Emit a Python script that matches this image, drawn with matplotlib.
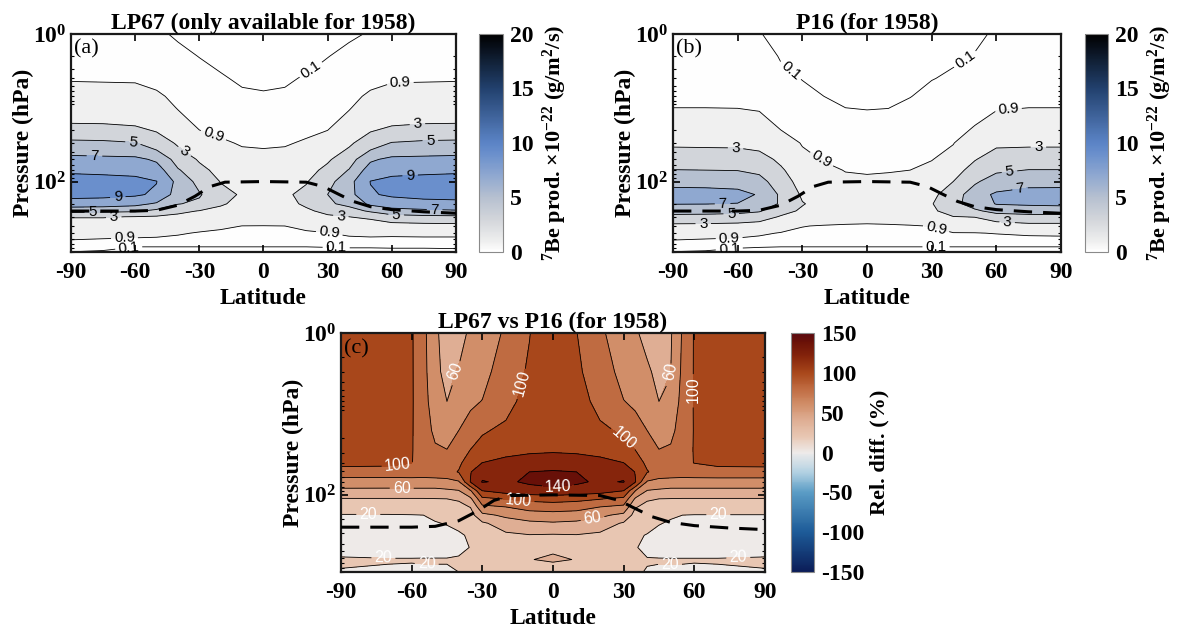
import numpy as np
import matplotlib
matplotlib.use('Agg')
import matplotlib.pyplot as plt
from matplotlib.colors import LinearSegmentedColormap, Normalize
from matplotlib.cm import ScalarMappable
from matplotlib.ticker import LogLocator, NullFormatter, FixedLocator

plt.rcParams['font.family'] = ['Liberation Serif', 'DejaVu Serif']
plt.rcParams['font.weight'] = 'bold'
plt.rcParams['axes.labelweight'] = 'bold'
plt.rcParams['axes.titleweight'] = 'bold'
plt.rcParams['mathtext.fontset'] = 'custom'
plt.rcParams['mathtext.rm'] = 'Liberation Serif:bold'
plt.rcParams['mathtext.bf'] = 'Liberation Serif:bold'
plt.rcParams['mathtext.default'] = 'rm'
plt.rcParams['axes.unicode_minus'] = False

# ---- data ----
# latitude columns and pressure levels (hPa) for panels (a) and (b)
lat = [-90, -75, -60, -50, -40, -30, -20, -10, 0, 10, 20, 30, 40, 50, 60, 75, 90]
pres = [1, 2, 4, 7, 10, 20, 30, 50, 70, 100, 150, 200, 250, 300, 400, 500, 700, 900]

# 7Be production, LP67 (x1e-22 g/m2/s), one list per latitude column (top -> bottom)
lp67 = [
    [0.3, 0.5, 0.8, 1.55, 2.0, 3.6, 5.5, 7.6, 8.7, 9.8, 9.6, 8.1, 5.6, 3.1, 2.1, 1.45, 0.5, 0.09],
    [0.28, 0.48, 0.78, 1.5, 2.0, 3.55, 5.4, 7.5, 8.6, 9.7, 9.5, 8.0, 5.5, 3.1, 2.1, 1.45, 0.3, 0.05],
    [0.25, 0.45, 0.75, 1.5, 2.05, 3.3, 5.1, 7.45, 8.6, 9.4, 9.25, 7.6, 5.3, 2.95, 2.07, 1.4, 0.13, 0.04],
    [0.15, 0.38, 0.65, 1.07, 1.64, 2.85, 4.0, 6.7, 7.96, 9.05, 8.7, 6.75, 4.5, 2.8, 1.97, 1.3, 0.13, 0.04],
    [0.06, 0.2, 0.45, 0.65, 0.82, 2.0, 2.76, 4.17, 5.2, 6.45, 6.1, 5.1, 3.4, 2.6, 1.72, 1.05, 0.13, 0.04],
    [0.04, 0.09, 0.3, 0.5, 0.65, 0.9, 1.74, 2.8, 3.55, 4.37, 5.2, 4.6, 2.94, 2.35, 1.41, 0.79, 0.13, 0.04],
    [0.03, 0.06, 0.12, 0.35, 0.5, 0.75, 1.03, 1.84, 2.37, 2.93, 3.6, 3.2, 2.53, 1.97, 1.1, 0.68, 0.13, 0.04],
    [0.02, 0.04, 0.07, 0.14, 0.3, 0.6, 0.82, 1.25, 1.7, 2.3, 2.8, 2.5, 1.95, 1.55, 0.89, 0.6, 0.13, 0.04],
    [0.02, 0.035, 0.065, 0.12, 0.25, 0.55, 0.78, 1.2, 1.6, 2.1, 2.45, 2.3, 1.85, 1.5, 0.88, 0.6, 0.13, 0.04],
    [0.02, 0.04, 0.07, 0.14, 0.3, 0.6, 0.82, 1.25, 1.7, 2.25, 2.7, 2.45, 1.95, 1.55, 0.9, 0.6, 0.13, 0.04],
    [0.03, 0.06, 0.12, 0.33, 0.5, 0.75, 1.0, 1.8, 2.3, 2.88, 3.5, 3.3, 2.7, 2.15, 1.2, 0.72, 0.13, 0.04],
    [0.04, 0.09, 0.28, 0.48, 0.63, 0.88, 1.7, 2.75, 3.5, 4.3, 5.0, 4.7, 3.5, 2.7, 1.55, 0.85, 0.14, 0.04],
    [0.06, 0.19, 0.43, 0.63, 0.8, 1.95, 2.7, 4.1, 5.1, 6.35, 6.3, 5.5, 4.2, 3.0, 1.85, 1.15, 0.15, 0.04],
    [0.12, 0.38, 0.65, 1.07, 1.64, 2.85, 4.0, 6.7, 7.96, 9.05, 8.8, 7.4, 5.3, 3.3, 2.1, 1.25, 0.15, 0.04],
    [0.25, 0.45, 0.75, 1.5, 2.05, 3.3, 5.1, 7.45, 8.6, 9.4, 9.3, 8.0, 6.3, 4.2, 2.2, 1.2, 0.15, 0.05],
    [0.28, 0.48, 0.78, 1.5, 2.0, 3.55, 5.4, 7.5, 8.6, 9.7, 9.6, 8.3, 6.6, 4.5, 2.3, 1.25, 0.15, 0.05],
    [0.3, 0.5, 0.8, 1.55, 2.0, 3.6, 5.5, 7.6, 8.7, 9.8, 9.7, 8.4, 6.8, 4.6, 2.35, 1.25, 0.15, 0.06],
]

# 7Be production, P16 for 1958
p16 = [
    [0.25, 0.38, 0.55, 0.75, 0.9, 2.03, 2.73, 4.04, 5.05, 6.45, 7.83, 7.08, 5.74, 4.46, 2.48, 1.5, 0.5, 0.08],
    [0.23, 0.36, 0.53, 0.73, 0.9, 2.0, 2.7, 4.0, 5.0, 6.4, 7.8, 7.05, 5.7, 4.4, 2.45, 1.45, 0.35, 0.05],
    [0.18, 0.3, 0.48, 0.7, 0.88, 2.0, 2.68, 3.95, 4.95, 6.3, 7.6, 6.95, 5.6, 4.2, 2.35, 1.4, 0.16, 0.04],
    [0.11, 0.22, 0.4, 0.6, 0.78, 1.8, 2.5, 3.66, 4.63, 5.67, 6.84, 6.08, 5.2, 3.86, 2.14, 1.12, 0.14, 0.04],
    [0.04, 0.08, 0.18, 0.35, 0.5, 0.9, 1.67, 2.65, 3.28, 3.94, 4.68, 4.8, 3.6, 2.84, 1.54, 0.82, 0.13, 0.04],
    [0.02, 0.04, 0.09, 0.2, 0.3, 0.6, 0.8, 1.34, 1.76, 2.22, 2.73, 3.1, 2.75, 2.2, 0.95, 0.6, 0.13, 0.04],
    [0.015, 0.03, 0.06, 0.1, 0.2, 0.45, 0.65, 0.85, 1.2, 1.7, 2.2, 2.4, 2.2, 1.85, 0.8, 0.5, 0.13, 0.04],
    [0.01, 0.02, 0.04, 0.07, 0.1, 0.35, 0.55, 0.72, 0.85, 1.2, 1.8, 2.1, 2.0, 1.5, 0.75, 0.45, 0.13, 0.04],
    [0.01, 0.02, 0.035, 0.06, 0.085, 0.3, 0.5, 0.7, 0.8, 1.1, 1.7, 2.0, 1.9, 1.4, 0.72, 0.45, 0.13, 0.04],
    [0.01, 0.02, 0.04, 0.065, 0.095, 0.33, 0.53, 0.72, 0.84, 1.15, 1.8, 2.1, 2.0, 1.5, 0.75, 0.45, 0.13, 0.04],
    [0.015, 0.03, 0.06, 0.09, 0.19, 0.45, 0.62, 0.8, 0.9, 1.5, 2.1, 2.35, 2.15, 1.8, 0.8, 0.5, 0.13, 0.04],
    [0.02, 0.04, 0.09, 0.2, 0.3, 0.6, 0.6, 0.85, 1.3, 2.05, 2.6, 2.9, 2.65, 2.2, 0.95, 0.6, 0.13, 0.04],
    [0.03, 0.07, 0.14, 0.25, 0.35, 0.6, 0.85, 1.45, 2.2, 3.0, 3.9, 4.4, 3.9, 2.95, 1.5, 0.85, 0.13, 0.04],
    [0.07, 0.11, 0.3, 0.5, 0.62, 1.0, 1.85, 2.9, 3.76, 4.7, 6.2, 5.9, 4.64, 3.06, 1.72, 0.85, 0.13, 0.04],
    [0.12, 0.2, 0.42, 0.62, 0.8, 1.9, 2.7, 3.87, 4.7, 6.0, 7.3, 7.1, 5.7, 3.96, 2.05, 0.95, 0.13, 0.04],
    [0.2, 0.33, 0.5, 0.72, 0.9, 2.03, 2.73, 4.04, 5.05, 6.4, 7.8, 7.3, 5.8, 4.4, 2.35, 1.1, 0.13, 0.04],
    [0.22, 0.35, 0.52, 0.74, 0.9, 2.03, 2.73, 4.04, 5.05, 6.4, 7.85, 7.4, 5.9, 4.4, 2.35, 1.15, 0.13, 0.04],
]

# relative difference LP67 vs P16 (%)
lat_c = [-90, -70, -60, -55, -50, -45, -40, -35, -30, -20, -10, 0, 10, 20, 30, 35, 40, 45, 50, 55, 60, 70, 90]
pres_c = [1, 3, 7, 16, 28, 40, 52, 69, 89, 112, 141, 178, 224, 316, 447, 631, 900]
rel_diff = [
    [110, 110, 110, 109, 107, 106, 90.8, 70.8, 55.2, 39, 29, 19, 15, 12, 14, 22, 19],
    [109, 109, 109, 108, 106, 105, 90.5, 70.5, 55, 39, 29, 19, 14, 11, 13, 21, 18],
    [102, 102, 102, 101.5, 101, 100.5, 91, 71, 55, 39, 29, 19.5, 15, 11, 13, 21, 17],
    [85, 86, 87, 89, 92, 94, 90, 71, 55, 39, 29, 20, 16, 12, 14, 21, 18],
    [65, 66, 70, 76, 83, 89, 92, 71, 55, 39.5, 30, 23, 19, 13, 14, 21, 18],
    [48, 53, 60, 72, 80.5, 88, 94, 72, 57, 40, 32, 25, 21, 14, 14, 21, 18],
    [52, 63, 72, 80, 90, 97, 101, 78, 59, 41.5, 36, 30, 25, 17, 16, 22, 20],
    [64, 70, 77, 90, 100.5, 108, 119, 121, 78, 56, 40.5, 33, 28, 23, 20.5, 24, 22],
    [72, 75, 80.5, 98, 108, 120, 135, 141, 120, 95, 75, 55, 37, 29, 26, 28, 25],
    [82, 88, 95, 104, 115, 125, 133, 137, 128, 101, 80, 64, 50, 36, 31, 31, 27],
    [99.5, 103, 106, 110, 117, 129, 140, 143, 132, 105, 88, 70, 56, 39, 34, 39.5, 29],
    [112, 112, 113, 114, 118, 130, 142, 146, 135, 107, 90, 72, 58, 38, 38, 42, 31],
    [100.5, 104, 107, 111, 117, 129, 140, 143, 132, 105, 88, 70, 56, 39, 34, 39.5, 29],
    [83, 88, 95, 104, 115, 125, 133, 137, 128, 101, 80, 64, 50, 36, 31, 31, 27],
    [70, 75, 80.5, 97, 107, 120, 134, 141, 120, 95, 75, 55, 38, 29, 26, 28, 25],
    [62, 69, 77, 89, 100, 107, 119, 121, 80, 57, 41, 33, 28, 23, 21, 24, 22],
    [55, 64, 72, 80, 90, 97, 101, 78, 59, 41.5, 36, 30, 26, 19, 16, 21, 19],
    [47, 53, 60, 72, 80.5, 88, 94, 72, 57, 40, 32, 25, 21, 14, 14, 21, 18],
    [58, 60, 67, 75, 83, 89, 92, 71, 55, 39.5, 30, 22, 18, 12, 13, 21, 18],
    [82, 84, 86, 89, 92, 94, 90, 71, 55, 39, 29, 20, 16, 12, 13, 21, 18],
    [101.5, 101.5, 101.5, 101, 101, 100.5, 91, 71, 55, 39, 29, 19.5, 15, 11, 13, 21, 17],
    [109, 109, 109, 108, 106, 105, 92, 71, 55, 39, 29, 19.5, 14, 11, 13, 21, 18],
    [110, 110, 110, 109, 107, 106, 92, 71, 55, 39, 29, 19.5, 15, 12, 14, 22, 19],
]

# tropopause (dashed line)
trop_lat = [-90, -75, -60, -50, -40, -32, -25, -18, 0, 20, 28, 35, 42, 50, 60, 75, 90]
trop_p = [251, 251, 251, 245, 209, 158, 117, 102, 100, 102, 117, 148, 186, 219, 240, 257, 269]

# contour levels
be_levels = [0, 0.1, 0.9, 3, 5, 7, 9, 20]
be_lines = [0.1, 0.9, 3, 5, 7, 9]
rd_levels = [0, 20, 40, 60, 80, 100, 120, 140, 160]
rd_plain = [40, 80, 120]
rd_labeled = [20, 60, 100, 140]

# ---- colormaps ----
cmap_be = LinearSegmentedColormap.from_list('be', [
    (0.0, '#ffffff'), (0.9 / 20, '#efefef'), (3 / 20, '#d2d5da'), (5 / 20, '#b6c0d0'),
    (7 / 20, '#8fa8d0'), (9 / 20, '#6a8fcc'), (10 / 20, '#5b84c6'), (15 / 20, '#22416e'),
    (1.0, '#000000')])
norm_be = Normalize(0, 20)

cmap_rd = LinearSegmentedColormap.from_list('rd', [
    (0.0, '#0b1d58'), (50 / 300, '#1d5b98'), (100 / 300, '#5a9cc5'), (125 / 300, '#b2d1e2'),
    (150 / 300, '#eeebea'), (170 / 300, '#e8c7b3'), (190 / 300, '#dfaf95'),
    (210 / 300, '#d18f6a'), (230 / 300, '#c06c42'), (250 / 300, '#a9481b'),
    (270 / 300, '#87260c'), (290 / 300, '#691007'), (1.0, '#5a0a10')])
norm_rd = Normalize(-150, 150)

fig = plt.figure(figsize=(11.81, 6.32), dpi=100)
dash = (0, (6, 3.6))


def style_axes(ax, letter):
    ax.set_yscale('log')
    ax.set_xlim(-90, 90)
    ax.set_ylim(900, 1)
    ax.set_xticks([-90, -60, -30, 0, 30, 60, 90])
    ax.set_xticklabels(['-90', '-60', '-30', '0', '30', '60', '90'])
    ax.yaxis.set_major_locator(FixedLocator([1, 100]))
    ax.set_yticklabels([r'$10^{0}$', r'$10^{2}$'])
    ax.yaxis.set_minor_locator(LogLocator(base=10, subs=np.arange(2, 10), numticks=20))
    ax.yaxis.set_minor_formatter(NullFormatter())
    ax.tick_params(which='both', direction='in', top=True, right=True, labelsize=17)
    ax.tick_params(axis='x', pad=7)
    ax.tick_params(which='major', length=5, width=1.2)
    ax.tick_params(which='minor', length=2.5, width=0.8)
    for s in ax.spines.values():
        s.set_linewidth(1.6)
        s.set_color('#1a1a1a')
    ax.set_xlabel('Latitude', fontsize=17, labelpad=4)
    ax.set_ylabel('Pressure (hPa)', fontsize=17, labelpad=-1)
    ax.text(0.008, 0.975, letter, transform=ax.transAxes, ha='left', va='top',
            fontsize=16, fontweight='normal', zorder=10)


def plain_labels(labs):
    for t in labs:
        t.set_fontfamily('Liberation Sans')
        t.set_fontweight('normal')


def be_panel(ax, z, title, letter, label_pos):
    z = np.array(z).T
    fills = [cmap_be(norm_be(v)) for v in be_levels[:-1]]
    ax.contourf(lat, pres, z, levels=be_levels, colors=fills)
    cs = ax.contour(lat, pres, z, levels=be_lines, colors='k', linewidths=0.6)
    style_axes(ax, letter)
    labs = ax.clabel(cs, manual=label_pos, inline=True, fmt='%g',
                     fontsize=11, inline_spacing=4)
    plain_labels(labs)
    ax.plot(trop_lat, trop_p, color='k', lw=2.2, ls=dash, zorder=6)
    ax.set_title(title, fontsize=17, fontweight='bold', pad=3)


def be_colorbar(cax):
    cb = fig.colorbar(ScalarMappable(norm=norm_be, cmap=cmap_be), cax=cax)
    cb.set_ticks([0, 5, 10, 15, 20])
    cb.outline.set_edgecolor('#8a8a8a')
    cb.outline.set_linewidth(0.8)
    cax.tick_params(length=0, labelsize=17, pad=5)
    cb.set_label(r'$^{7}$Be prod. $\times$10$^{-22}$ (g/m$^{2}$/s)', fontsize=16, labelpad=5)


# ---- panel (a) ----
ax_a = fig.add_axes([0.0601, 0.6013, 0.326, 0.345])
pos_a = [(25, 4), (64, 5.4), (-23.5, 24), (72, 17), (78, 28.5), (-61, 29.5), (-79, 43),
         (-38, 43), (68.5, 76), (-68, 185), (-80, 262), (-70, 305), (36, 330), (62, 290),
         (80, 245), (-65, 575), (31, 445), (-63, 790), (34, 740)]
be_panel(ax_a, lp67, 'LP67 (only available for 1958)', '(a)', pos_a)
be_colorbar(fig.add_axes([0.4056, 0.6013, 0.0203, 0.345]))

# ---- panel (b) ----
ax_b = fig.add_axes([0.5699, 0.6013, 0.3285, 0.345])
pos_b = [(-35.7, 3.2), (45.5, 2.2), (65.6, 10.6), (-21.8, 53), (-61, 37), (79.5, 37),
         (66, 69), (71, 126), (-67, 205), (-76, 370), (-63, 280), (65, 363), (-64, 550),
         (32, 440), (-64, 760), (32, 760)]
be_panel(ax_b, p16, 'P16 (for 1958)', '(b)', pos_b)
be_colorbar(fig.add_axes([0.9187, 0.6013, 0.0195, 0.345]))

# ---- panel (c) ----
ax_c = fig.add_axes([0.2887, 0.0949, 0.359, 0.378])
zc = np.array(rel_diff).T
fills_c = [cmap_rd(norm_rd(v)) for v in rd_levels[:-1]]
ax_c.contourf(lat_c, pres_c, zc, levels=rd_levels, colors=fills_c)
ax_c.contour(lat_c, pres_c, zc, levels=rd_plain, colors='k', linewidths=0.6)
cs_c = ax_c.contour(lat_c, pres_c, zc, levels=rd_labeled, colors='k', linewidths=0.6)
style_axes(ax_c, '(c)')
pos_c = [(-39.5, 3.1), (-12.6, 4.2), (52.5, 3.1), (60.3, 5), (29.9, 20), (-65.7, 49),
         (-64.2, 83), (-78.4, 186), (2.3, 87), (-14.7, 122), (17.1, 224), (70.2, 186),
         (-72, 645), (78.7, 620), (-53.6, 810), (49.7, 780)]
labs_c = ax_c.clabel(cs_c, manual=pos_c, inline=True, fmt='%g',
                     fontsize=11.5, colors='white', inline_spacing=4)
plain_labels(labs_c)
ax_c.plot(trop_lat, trop_p, color='k', lw=2.2, ls=dash, zorder=6)
ax_c.set_title('LP67 vs P16 (for 1958)', fontsize=17, fontweight='bold', pad=3)

cax_c = fig.add_axes([0.6698, 0.0949, 0.0195, 0.378])
cb_c = fig.colorbar(ScalarMappable(norm=norm_rd, cmap=cmap_rd), cax=cax_c)
cb_c.set_ticks([-150, -100, -50, 0, 50, 100, 150])
cb_c.set_ticklabels(['-150', '-100', '-50', '0', '50', '100', '150'])
cb_c.outline.set_edgecolor('#8a8a8a')
cb_c.outline.set_linewidth(0.8)
cax_c.tick_params(length=0, labelsize=17, pad=5)
cb_c.set_label('Rel. diff. (%)', fontsize=16, labelpad=4)

fig.savefig('out.png', dpi=100)
